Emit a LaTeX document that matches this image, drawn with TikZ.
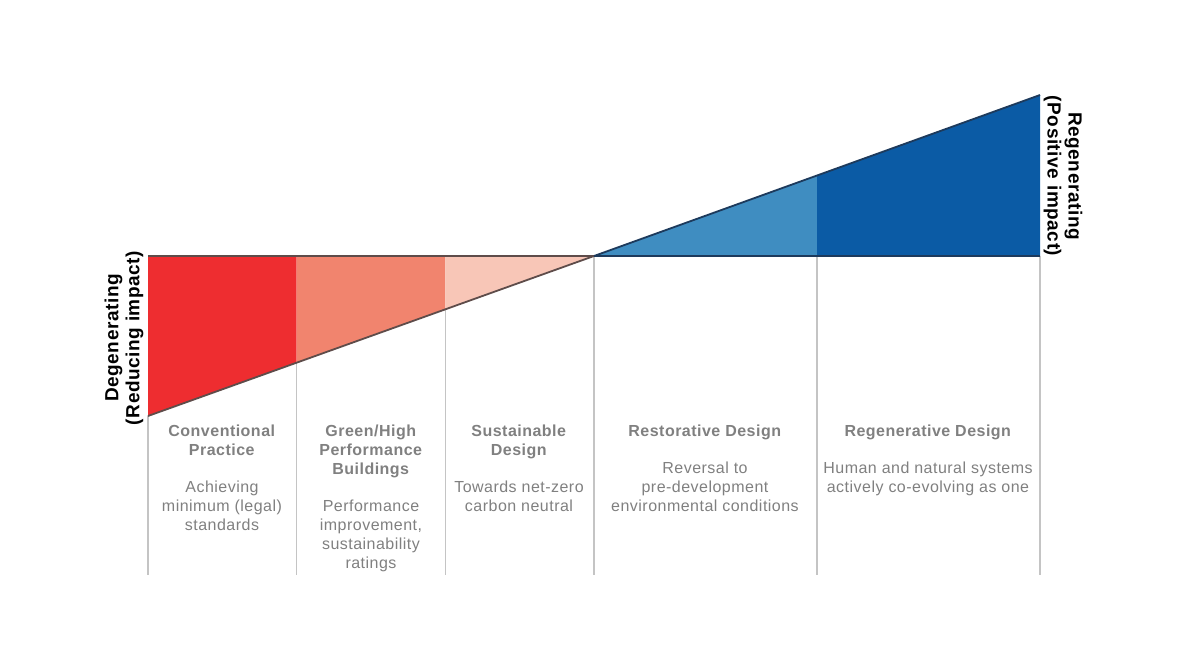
\documentclass[tikz,border=0pt]{standalone}
\usepackage{fontspec}
\usepackage{xcolor}
\usepackage{tikz}
\usetikzlibrary{calc,positioning}
\setsansfont{Liberation Sans}
\newfontfamily\stagefont[LetterSpace=3]{Liberation Sans}
\definecolor{regRed}{HTML}{EE2D30}
\definecolor{regSalmon}{HTML}{F1846E}
\definecolor{regBlush}{HTML}{F8C6B7}
\definecolor{regSky}{HTML}{3F8DC1}
\definecolor{regNavy}{HTML}{0B5BA5}
\definecolor{regText}{HTML}{808080}
\definecolor{regRule}{HTML}{C4C4C4}
\definecolor{regEdgeRed}{HTML}{5E4C4A}
\definecolor{regEdgeBlue}{HTML}{1D3A5C}
\tikzset{
    every picture/.style={font=\sffamily},
    stage/.style={anchor=north, align=center, inner sep=0pt, text=regText, font=\stagefont\fontsize{16}{19}\selectfont},
    sidelabel/.style={align=center, inner sep=0pt, text=black, font=\stagefont\bfseries\fontsize{19}{21}\selectfont},
    rule/.style={draw=regRule, line width=1.2pt},
    edge/.style={line width=1.8pt, line join=round}
}

\begin{document}
\begin{tikzpicture}[x=1pt,y=-1pt]
\useasboundingbox (0,0) rectangle (1188,668);
% corner points of the two wedges
\coordinate (degTop) at (148,256);
\coordinate (degLow) at (148,416);
\coordinate (pivot) at (594,256);
\coordinate (regTop) at (1040,95);
\coordinate (regBase) at (1040,256);
\coordinate (floor) at (0,575);
\coordinate (d1) at ($(degLow)!1/3!(pivot)$);
\coordinate (d2) at ($(degLow)!2/3!(pivot)$);
\coordinate (u1) at ($(pivot)!1/2!(regTop)$);
\fill[regRed] (degTop) -- (degTop -| d1) -- (d1) -- (degLow) -- cycle;
\fill[regSalmon] (degTop -| d1) -- (degTop -| d2) -- (d2) -- (d1) -- cycle;
\fill[regBlush] (degTop -| d2) -- (pivot) -- (d2) -- cycle;
\fill[regSky] (pivot) -- (u1) -- (pivot -| u1) -- cycle;
\fill[regNavy] (pivot -| u1) -- (u1) -- (regTop) -- (regBase) -- cycle;
% column rules
\draw[rule] (degLow) -- (degLow |- floor);
\draw[rule] (d1) -- (d1 |- floor);
\draw[rule] (d2) -- (d2 |- floor);
\draw[rule] (pivot) -- (pivot |- floor);
\draw[rule] (pivot -| u1) -- (u1 |- floor);
\draw[rule] (regBase) -- (regBase |- floor);
\draw[edge, regEdgeRed] (degLow) -- (pivot) -- (degTop);
\draw[edge, regEdgeBlue] (pivot) -- (regTop);
\draw[edge, regEdgeBlue] (pivot) -- (regBase);
\node[stage] (conv) at (222,425) {\textbf{Conventional}\\\textbf{Practice}\\[18pt]Achieving\\minimum (legal)\\standards};
\node[stage] (green) at (371,425) {\textbf{Green/High}\\\textbf{Performance}\\\textbf{Buildings}\\[18pt]Performance\\improvement,\\sustainability\\ratings};
\node[stage] (sust) at (519,425) {\textbf{Sustainable}\\\textbf{Design}\\[18pt]Towards net-zero\\carbon neutral};
\node[stage] (resto) at (705,425) {\textbf{Restorative Design}\\[18pt]Reversal to\\pre-development\\environmental conditions};
\node[stage] (regen) at (928,425) {\textbf{Regenerative Design}\\[18pt]Human and natural systems\\actively co-evolving as one};
\node[sidelabel, rotate=90] (degLabel) at (124,338) {Degenerating\\(Reducing impact)};
\node[sidelabel, rotate=-90] (regLabel) at (1063,176) {Regenerating\\(Positive impact)};
\end{tikzpicture}
\end{document}
